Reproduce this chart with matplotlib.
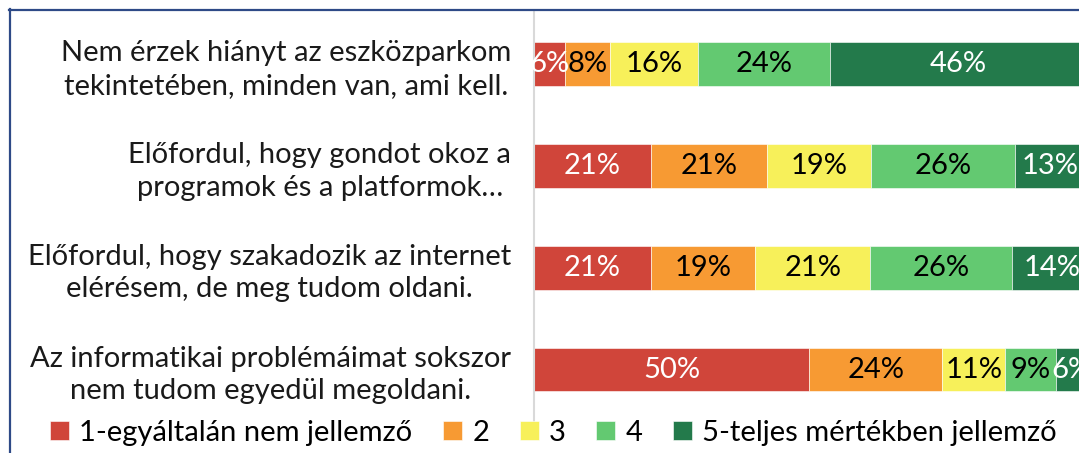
import matplotlib
matplotlib.use("Agg")
import matplotlib.pyplot as plt
from matplotlib.lines import Line2D
import numpy as np

# statements (top to bottom)
categories = [
    "Nem érzek hiányt az eszközparkom\ntekintetében, minden van, ami kell.",
    "Előfordul, hogy gondot okoz a\nprogramok és a platformok…",
    "Előfordul, hogy szakadozik az internet\nelérésem, de meg tudom oldani.",
    "Az informatikai problémáimat sokszor\nnem tudom egyedül megoldani.",
]
series_names = ["1-egyáltalán nem jellemző", "2", "3", "4", "5-teljes mértékben jellemző"]
colors = ["#D0453A", "#F79A33", "#F7F05A", "#63C971", "#237A4B"]
text_colors = ["white", "black", "black", "black", "white"]

# shares in percent, one list per answer level
s1 = [5.7, 21.2, 21.2, 49.9]
s2 = [8.2, 21.1, 18.9, 24.0]
s3 = [15.9, 18.8, 20.8, 11.4]
s4 = [23.9, 25.9, 25.7, 9.1]
s5 = [46.3, 13.0, 14.3, 5.6]
series = [s1, s2, s3, s4, s5]

plt.rcParams['font.family'] = ['Lato', 'DejaVu Sans']
FS = 21

fig = plt.figure(figsize=(10.79, 4.53), dpi=100)
W, H = 1079, 453
ax = fig.add_axes([533.5 / W, 1 - 424 / H, 553 / W, 413 / H])

y = np.arange(len(categories))
left = np.zeros(len(categories))
for vals, col, name in zip(series, colors, series_names):
    ax.barh(y, vals, left=left, height=0.43, color=col, label=name,
            edgecolor="white", linewidth=0.4)
    left = left + np.array(vals)

# value labels on top of all bars
left = np.zeros(len(categories))
for vals, tc in zip(series, text_colors):
    for i, v in enumerate(vals):
        ax.text(left[i] + v / 2, y[i], f"{round(v):.0f}%", ha="center", va="center",
                color=tc, fontsize=FS, clip_on=False)
    left = left + np.array(vals)

ax.set_xlim(0, 100)
ax.set_ylim(3.535, -0.52)
ax.set_yticks(y)
ax.set_yticklabels(categories, fontsize=FS, multialignment="center", color="#1a1a1a",
                   linespacing=1.3)
ax.tick_params(axis="y", length=0, pad=16)
ax.set_xticks([])
for sp in ["top", "right", "bottom"]:
    ax.spines[sp].set_visible(False)
ax.spines["left"].set_color("#D9D9D9")
ax.spines["left"].set_linewidth(1.5)

fig.legend(loc="center", bbox_to_anchor=(0.513, 1 - 433 / H), ncol=5, frameon=False,
           fontsize=FS, handlelength=0.65, handleheight=0.65, handletextpad=0.35,
           columnspacing=1.05)

# slide frame
fig.add_artist(Line2D([9 / W, 1], [1 - 9.5 / H] * 2, color="#2E4A87", lw=1.6))
fig.add_artist(Line2D([9.5 / W] * 2, [0, 1 - 9 / H], color="#2E4A87", lw=1.6))

fig.savefig("out.png", dpi=100)
